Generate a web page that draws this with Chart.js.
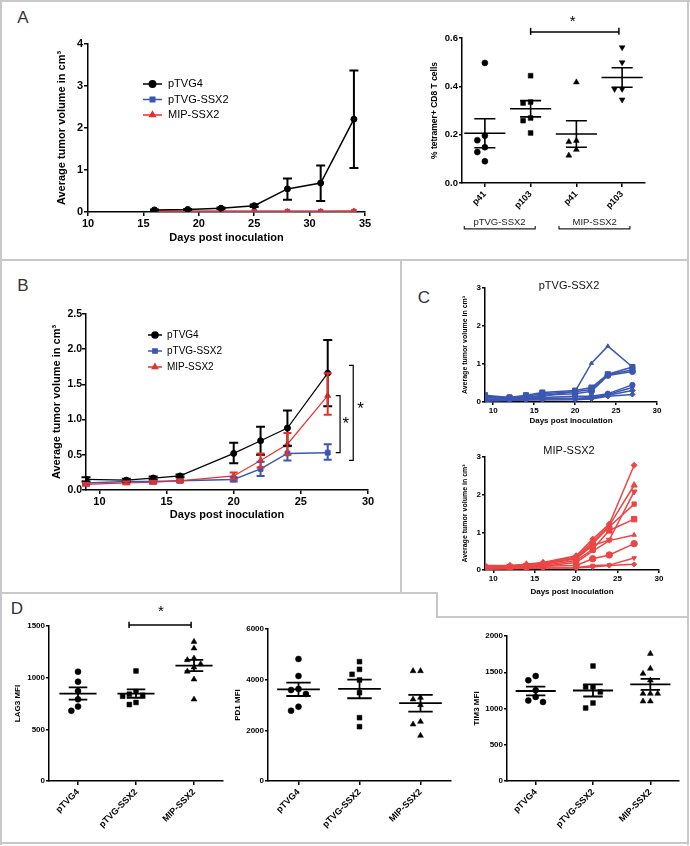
<!DOCTYPE html>
<html><head><meta charset="utf-8">
<script src="https://cdn.jsdelivr.net/npm/chart.js@4.4.1/dist/chart.umd.min.js"></script>
<style>
html,body{margin:0;padding:0;background:#fff;}
body{width:690px;height:846px;position:relative;overflow:hidden;font-family:"Liberation Sans",Arial,sans-serif;}
.f{position:absolute;background:#c8c8c8;}
canvas{position:absolute;}
.pl{position:absolute;font-size:17px;color:#333;line-height:1;transform:translate(-50%,-50%);}
</style></head>
<body>
<div class="f" style="left:0;top:0;width:690px;height:2px"></div>
<div class="f" style="left:0;top:0;width:2px;height:845px"></div>
<div class="f" style="left:687px;top:0;width:2px;height:845px"></div>
<div class="f" style="left:0;top:842px;width:689px;height:2px"></div>
<div class="f" style="left:0;top:259px;width:689px;height:2px"></div>
<div class="f" style="left:400px;top:259px;width:2px;height:335px"></div>
<div class="f" style="left:0;top:592px;width:438px;height:2px"></div>
<div class="f" style="left:436px;top:592px;width:2px;height:26px"></div>
<div class="f" style="left:436px;top:616px;width:253px;height:2px"></div>
<div class="pl" style="left:23px;top:17px">A</div>
<div class="pl" style="left:23px;top:285px">B</div>
<div class="pl" style="left:424px;top:297px">C</div>
<div class="pl" style="left:17px;top:608px">D</div>
<canvas id="cA1"></canvas>
<canvas id="cA2"></canvas>
<canvas id="cB"></canvas>
<canvas id="cC1"></canvas>
<canvas id="cC2"></canvas>
<canvas id="cD1"></canvas>
<canvas id="cD2"></canvas>
<canvas id="cD3"></canvas>
<script>
// ---------------- DATA ----------------
const SERIES = ['pTVG4','pTVG-SSX2','MIP-SSX2'];
// Panel A left
const DAYS_A = [16,19,22,25,28,31,34];
const A_PTVG4 = [0.05,0.06,0.09,0.15,0.55,0.69,2.21];
const A_PTVG4_LO = [0.04,0.05,0.07,0.12,0.29,0.26,1.05];
const A_PTVG4_HI = [0.06,0.07,0.11,0.18,0.80,1.11,3.37];
const A_PTVG_SSX2 = [0.01,0.01,0.01,0.01,0.01,0.01,0.01];
const A_MIP_SSX2 = [0.01,0.01,0.01,0.01,0.01,0.01,0.02];
const A_X_TICKS = [10,15,20,25,30,35];
const A_Y_TICKS = [0,1,2,3,4];
// Panel A right (tetramer)
const TET_LABELS = ['p41','p103','p41','p103'];
const TET_GROUPS = ['pTVG-SSX2','MIP-SSX2'];
const TET_P41_PTVG = [0.497,0.196,0.177,0.148,0.128,0.090];
const TET_P103_PTVG = [0.444,0.335,0.331,0.269,0.258,0.207];
const TET_P41_MIP = [0.417,0.175,0.170,0.138,0.114];
const TET_P103_MIP = [0.561,0.499,0.389,0.389,0.345];
const TET_Y_TICKS = [0,0.2,0.4,0.6];
// Panel B
const DAYS_B = [9,12,14,16,20,22,24,27];
const B_PTVG4 = [0.15,0.14,0.17,0.20,0.52,0.70,0.88,1.66];
const B_PTVG4_LO = [0.12,0.12,0.15,0.18,0.38,0.50,0.63,1.19];
const B_PTVG4_HI = [0.18,0.16,0.19,0.22,0.67,0.90,1.13,2.13];
const B_PTVG_SSX2 = [0.10,0.12,0.12,0.13,0.15,0.30,0.52,0.53];
const B_PTVG_SSX2_LO = [0.08,0.10,0.10,0.11,0.12,0.20,0.42,0.43];
const B_PTVG_SSX2_HI = [0.12,0.14,0.14,0.15,0.18,0.40,0.62,0.65];
const B_MIP_SSX2 = [0.08,0.10,0.11,0.13,0.20,0.42,0.65,1.34];
const B_MIP_SSX2_LO = [0.06,0.08,0.09,0.11,0.15,0.32,0.50,1.07];
const B_MIP_SSX2_HI = [0.10,0.12,0.13,0.15,0.25,0.52,0.81,1.66];
const B_X_TICKS = [10,15,20,25,30];
const B_Y_TICKS = [0,0.5,1.0,1.5,2.0,2.5];
// Panel C (individual mice)
const DAYS_C = [9,12,14,16,20,22,24,27];
const C_PTVG_1 = [0.12,0.10,0.12,0.15,0.28,1.02,1.47,0.92];
const C_PTVG_2 = [0.18,0.12,0.18,0.25,0.30,0.38,0.73,0.92];
const C_PTVG_3 = [0.15,0.12,0.15,0.22,0.27,0.33,0.72,0.85];
const C_PTVG_4 = [0.12,0.10,0.12,0.18,0.22,0.28,0.70,0.80];
const C_PTVG_5 = [0.08,0.08,0.10,0.12,0.15,0.15,0.22,0.45];
const C_PTVG_6 = [0.05,0.08,0.08,0.10,0.10,0.12,0.20,0.38];
const C_PTVG_7 = [0.04,0.06,0.06,0.08,0.08,0.10,0.18,0.30];
const C_PTVG_8 = [0.02,0.04,0.05,0.05,0.06,0.08,0.15,0.20];
const C_MIP_1 = [0.12,0.12,0.15,0.20,0.38,0.82,1.22,2.78];
const C_MIP_2 = [0.10,0.10,0.15,0.18,0.35,0.75,1.18,2.25];
const C_MIP_3 = [0.08,0.10,0.12,0.15,0.30,0.65,0.80,2.08];
const C_MIP_4 = [0.08,0.08,0.12,0.15,0.32,0.70,1.15,1.75];
const C_MIP_5 = [0.06,0.08,0.10,0.12,0.25,0.55,1.05,1.35];
const C_MIP_6 = [0.05,0.06,0.08,0.10,0.20,0.50,0.78,0.93];
const C_MIP_7 = [0.05,0.06,0.08,0.10,0.12,0.30,0.40,0.70];
const C_MIP_8 = [0.03,0.04,0.05,0.05,0.06,0.12,0.13,0.32];
const C_MIP_9 = [0.02,0.03,0.04,0.05,0.05,0.08,0.12,0.15];
const C_PTVG_MICE = [C_PTVG_1,C_PTVG_2,C_PTVG_3,C_PTVG_4,C_PTVG_5,C_PTVG_6,C_PTVG_7,C_PTVG_8];
const C_MIP_MICE = [C_MIP_1,C_MIP_2,C_MIP_3,C_MIP_4,C_MIP_5,C_MIP_6,C_MIP_7,C_MIP_8,C_MIP_9];
const C_X_TICKS = [10,15,20,25,30];
const C_Y_TICKS = [0,1,2,3];
// Panel D
const D_GROUPS = ['pTVG4','pTVG-SSX2','MIP-SSX2'];
const LAG3_PTVG4 = [1058,961,870,790,720,680];
const LAG3_PTVG_SSX2 = [1065,865,840,830,820,760,740];
const LAG3_MIP_SSX2 = [1348,1284,1187,1171,1132,1100,1060,984,790];
const PD1_PTVG4 = [4816,4145,3632,3592,3434,2934,2776];
const PD1_PTVG_SSX2 = [4711,4408,4211,3987,3487,2500,2145];
const PD1_MIP_SSX2 = [4342,4342,3290,3224,3000,2342,2237,1790];
const TIM3_PTVG4 = [1448,1389,1251,1160,1110,1090];
const TIM3_PTVG_SSX2 = [1586,1297,1297,1228,1076,1007];
const TIM3_MIP_SSX2 = [1756,1550,1481,1389,1205,1205,1205,1099,1099];
const LAG3_TICKS = [0,500,1000,1500];
const PD1_TICKS = [0,2000,4000,6000];
const TIM3_TICKS = [0,500,1000,1500,2000];

// ---------------- STYLE / HELPERS ----------------
const FONT = '"Liberation Sans", Arial, sans-serif';
Chart.defaults.font.family = FONT;
Chart.defaults.color = '#000';
const BLACK = '#000000', BLUE = '#3a57b3', RED = '#e5322d', CRED = '#ec4545';
const EXTRAS = {};

function mean(a){return a.reduce((s,v)=>s+v,0)/a.length;}
function sem(a){const m=mean(a);return Math.sqrt(a.reduce((s,v)=>s+(v-m)*(v-m),0)/(a.length-1))/Math.sqrt(a.length);}
function swarm(vals, center, yThr, dx){
  const placed=[];
  return vals.map(v=>{
    for(const k of [0,-1,1,-2,2,-3,3]){
      if(!placed.some(p=>p.k===k && Math.abs(p.v-v)<yThr)){placed.push({k,v});return {x:center+k*dx,y:v};}
    }
    return {x:center,y:v};
  });
}
function toXY(xs, ys){return xs.map((x,i)=>({x, y:ys[i]}));}

function place(id, area, yW, xH, padT, padR){
  const c=document.getElementById(id);
  const left=area.l-yW, top=area.t-padT;
  const w=area.r-area.l+yW+padR, h=area.b-area.t+padT+xH;
  c.style.left=left+'px'; c.style.top=top+'px'; c.style.width=w+'px'; c.style.height=h+'px';
  c.width=w; c.height=h;
  return c;
}
function axis(o){
  return {
    type:'linear', min:o.min, max:o.max,
    ticks:{font:{size:o.fs, weight:'bold'}, color:'#000', padding:o.pad??1, autoSkip:false,
      maxRotation:o.rot||0, minRotation:o.rot||0, callback:o.fmt||(v=>v)},
    afterBuildTicks:(s)=>{s.ticks=o.ticks.map(v=>({value:v}));},
    grid:{display:true, drawOnChartArea:false, drawTicks:true, tickLength:o.tl??4, color:'#000', lineWidth:1.5},
    border:{display:true, color:'#000', width:1.5},
    title:o.title?{display:true, text:o.title, color:'#000', font:{size:o.tfs, weight:'bold'},
      padding:o.isX?{top:0,bottom:o.tpad}:{top:o.tpad,bottom:0}}:{display:false},
    afterFit:(s)=>{ if(o.isX) s.height=o.fit; else s.width=o.fit; }
  };
}
function opts(padT,padR,x,y){
  return {responsive:false, animation:false, events:[], layout:{padding:{top:padT,right:padR,left:0,bottom:0}},
    plugins:{legend:{display:false}, tooltip:{enabled:false}}, scales:{x,y}};
}

const extrasPlugin = {
  id:'extras',
  afterDatasetsDraw(chart){
    const E=EXTRAS[chart.canvas.id]; if(!E) return;
    const ctx=chart.ctx, xs=chart.scales.x, ys=chart.scales.y;
    ctx.save(); ctx.lineCap='butt';
    (E.err||[]).forEach(e=>{
      ctx.strokeStyle=e.color; ctx.lineWidth=e.lw;
      e.x.forEach((xv,i)=>{
        const px=xs.getPixelForValue(xv), pl=ys.getPixelForValue(e.lo[i]), ph=ys.getPixelForValue(e.hi[i]);
        ctx.beginPath(); ctx.moveTo(px,pl); ctx.lineTo(px,ph);
        ctx.moveTo(px-e.cap,pl); ctx.lineTo(px+e.cap,pl);
        ctx.moveTo(px-e.cap,ph); ctx.lineTo(px+e.cap,ph);
        ctx.stroke();
      });
    });
    (E.means||[]).forEach(m=>{
      const px=xs.getPixelForValue(m.x);
      const hw=xs.getPixelForValue(m.x+m.hw)-px, cw=xs.getPixelForValue(m.x+m.cw)-px;
      const pm=ys.getPixelForValue(m.mean), pl=ys.getPixelForValue(m.mean-m.sem), ph=ys.getPixelForValue(m.mean+m.sem);
      ctx.strokeStyle='#000'; ctx.lineWidth=m.lw;
      ctx.beginPath();
      ctx.moveTo(px-hw,pm); ctx.lineTo(px+hw,pm);
      ctx.moveTo(px,pl); ctx.lineTo(px,ph);
      ctx.moveTo(px-cw,pl); ctx.lineTo(px+cw,pl);
      ctx.moveTo(px-cw,ph); ctx.lineTo(px+cw,ph);
      ctx.stroke();
    });
    ctx.restore();
  },
  afterDraw(chart){
    const E=EXTRAS[chart.canvas.id]; if(!E) return;
    const ctx=chart.ctx, xs=chart.scales.x, ys=chart.scales.y, ca=chart.chartArea;
    ctx.save();
    (E.lines||[]).forEach(l=>{
      ctx.strokeStyle=l.color||'#000'; ctx.lineWidth=l.lw||1.5;
      ctx.beginPath();
      l.pts.forEach((p,i)=>{const X=xs.getPixelForValue(p[0]), Y=ys.getPixelForValue(p[1]); if(i) ctx.lineTo(X,Y); else ctx.moveTo(X,Y);});
      ctx.stroke();
    });
    (E.texts||[]).forEach(t=>{
      const X = t.rx!==undefined ? ca.left+t.rx : xs.getPixelForValue(t.x);
      const Y = t.ry!==undefined ? ca.top+t.ry : ys.getPixelForValue(t.y);
      ctx.fillStyle=t.color||'#000'; ctx.font=t.font; ctx.textAlign='center'; ctx.textBaseline='middle';
      ctx.fillText(t.text,X,Y);
    });
    if(E.legend){
      const L=E.legend;
      chart.data.datasets.forEach((ds,i)=>{
        const y=ca.top+L.y+i*L.dy, x0=ca.left+L.x;
        ctx.strokeStyle=ds.borderColor; ctx.fillStyle=ds.borderColor; ctx.lineWidth=1.5;
        ctx.beginPath(); ctx.moveTo(x0,y); ctx.lineTo(x0+L.len,y); ctx.stroke();
        Chart.helpers.drawPoint(ctx,{pointStyle:ds.pointStyle, radius:L.r, rotation:ds.pointRotation||0, borderWidth:1}, x0+L.len/2, y);
        ctx.fillStyle='#000'; ctx.font=L.font; ctx.textAlign='left'; ctx.textBaseline='middle';
        ctx.fillText(ds.label, x0+L.len+L.gap, y);
      });
    }
    ctx.restore();
  }
};
Chart.register(extrasPlugin);

function lineDs(label, xs, ys, color, style, r, order, lw){
  return {label, data:toXY(xs,ys), borderColor:color, backgroundColor:color, pointBackgroundColor:color,
    pointBorderColor:color, pointStyle:style, pointRadius:r, pointBorderWidth:1, borderWidth:lw||1.5,
    pointRotation: 0, showLine:true, tension:0, order};
}

// ---------------- PANEL A left ----------------
{
  const area={l:88,t:44,r:365,b:212}, yW=48, xH=36, padT=12, padR=14;
  const c=place('cA1',area,yW,xH,padT,padR);
  EXTRAS.cA1={
    err:[{x:DAYS_A, lo:A_PTVG4_LO, hi:A_PTVG4_HI, color:BLACK, lw:2, cap:4.5}],
    legend:{x:55, y:40, dy:15.5, len:19, gap:6, r:3.2, font:'11px '+FONT}
  };
  new Chart(c,{type:'line', data:{datasets:[
      lineDs(SERIES[0],DAYS_A,A_PTVG4,BLACK,'circle',3,0,1.5),
      lineDs(SERIES[1],DAYS_A,A_PTVG_SSX2,BLUE,'rect',3.2,2,2),
      lineDs(SERIES[2],DAYS_A,A_MIP_SSX2,RED,'triangle',3.2,1,1.5)]},
    options:opts(padT,padR,
      axis({isX:true,min:10,max:35,ticks:A_X_TICKS,fs:11,fit:xH,title:'Days post inoculation',tfs:11,tpad:3.4}),
      axis({min:0,max:4,ticks:A_Y_TICKS,fs:11,fit:yW,title:'Average tumor volume in cm³',tfs:11,tpad:15.4}))});
}

// ---------------- PANEL A right ----------------
{
  const area={l:462,t:38,r:645,b:183}, yW=40, xH=55, padT=26, padR=12;
  const c=place('cA2',area,yW,xH,padT,padR);
  const groups=[TET_P41_PTVG,TET_P103_PTVG,TET_P41_MIP,TET_P103_MIP];
  const shapes=[['circle',0,3],['rect',0,3.4],['triangle',0,3.4],['triangle',180,3.4]];
  const ds=groups.map((g,i)=>({label:TET_LABELS[i], data:swarm(g,i+1,0.03,0.165), showLine:false,
    pointStyle:shapes[i][0], pointRotation:shapes[i][1], pointRadius:shapes[i][2],
    pointBackgroundColor:'#000', pointBorderColor:'#000', pointBorderWidth:0.5, borderColor:'#000'}));
  EXTRAS.cA2={
    means:groups.map((g,i)=>({x:i+1, mean:mean(g), sem:sem(g), hw:0.45, cw:0.23, lw:1.6})),
    lines:[
      {pts:[[2,0.613],[2,0.642]]},{pts:[[2,0.625],[3.93,0.625]]},{pts:[[3.93,0.613],[3.93,0.642]]},
      {pts:[[0.55,-0.178],[0.55,-0.190],[2.1,-0.190],[2.1,-0.178]], lw:1.2, color:'#222'},
      {pts:[[2.62,-0.178],[2.62,-0.190],[4.17,-0.190],[4.17,-0.178]], lw:1.2, color:'#222'}],
    texts:[
      {x:2.92, y:0.668, text:'*', font:'15px '+FONT},
      {x:1.32, y:-0.163, text:TET_GROUPS[0], font:'9.5px '+FONT, color:'#222'},
      {x:3.40, y:-0.163, text:TET_GROUPS[1], font:'9.5px '+FONT, color:'#222'}]
  };
  new Chart(c,{type:'scatter', data:{datasets:ds},
    options:opts(padT,padR,
      axis({isX:true,min:0.5,max:4.5,ticks:[1,2,3,4],fs:9,fit:xH,rot:45,tl:4,pad:2,fmt:v=>TET_LABELS[v-1]}),
      axis({min:0,max:0.6,ticks:TET_Y_TICKS,fs:9.5,fit:yW,tl:3,pad:1,fmt:v=>v.toFixed(1),
        title:'% tetramer+ CD8 T cells',tfs:8.5,tpad:8}))});
}

// ---------------- PANEL B ----------------
{
  const area={l:86,t:314,r:368,b:490}, yW=45, xH=36, padT=14, padR=22;
  const c=place('cB',area,yW,xH,padT,padR);
  EXTRAS.cB={
    err:[
      {x:DAYS_B, lo:B_PTVG_SSX2_LO, hi:B_PTVG_SSX2_HI, color:BLUE, lw:2, cap:4},
      {x:DAYS_B, lo:B_PTVG4_LO, hi:B_PTVG4_HI, color:BLACK, lw:2, cap:4.5},
      {x:DAYS_B, lo:B_MIP_SSX2_LO, hi:B_MIP_SSX2_HI, color:RED, lw:2, cap:4}],
    lines:[
      {pts:[[27.6,1.34],[27.92,1.34],[27.92,0.53],[27.6,0.53]], lw:1.2},
      {pts:[[28.58,1.77],[28.9,1.77],[28.9,0.42],[28.58,0.42]], lw:1.2}],
    texts:[{x:28.35,y:0.93,text:'*',font:'17px '+FONT},{x:29.45,y:1.15,text:'*',font:'17px '+FONT}],
    legend:{x:62, y:21, dy:16, len:14, gap:5, r:3, font:'10px '+FONT}
  };
  new Chart(c,{type:'line', data:{datasets:[
      lineDs(SERIES[0],DAYS_B,B_PTVG4,BLACK,'circle',3,1,1.2),
      lineDs(SERIES[1],DAYS_B,B_PTVG_SSX2,BLUE,'rect',3.4,2,1.5),
      lineDs(SERIES[2],DAYS_B,B_MIP_SSX2,RED,'triangle',3.4,0,1.2)]},
    options:opts(padT,padR,
      axis({isX:true,min:9,max:30,ticks:B_X_TICKS,fs:11,fit:xH,title:'Days post inoculation',tfs:11,tpad:4.4}),
      axis({min:0,max:2.5,ticks:B_Y_TICKS,fs:10.5,fit:yW,pad:0,fmt:v=>v.toFixed(1),title:'Average tumor volume in cm³',tfs:11,tpad:9.5}))});
}

// ---------------- PANEL C ----------------
const C_STY_PTVG=[['triangle',0,2.3],['rect',0,3.6],['rect',0,3.4],['circle',0,3],['circle',0,2.6],['triangle',180,2.6],['rectRot',0,2.8],['rectRot',0,2.6]];
const C_STY_MIP=[['rectRot',0,3],['triangle',0,3.6],['triangle',180,3.4],['rect',0,3],['rect',0,3.8],['triangle',0,2.6],['circle',0,3.2],['triangle',180,2.6],['rectRot',0,2.6]];
function cChart(id, area, mice, sty, color, title, ry){
  const yW=30, xH=area.xH, padT=14, padR=15;
  const c=place(id,area,yW,xH,padT,padR);
  EXTRAS[id]={texts:[{rx:84, ry, text:title, font:'11px '+FONT, color:'#111'}]};
  new Chart(c,{type:'line', data:{datasets:mice.map((m,i)=>{
      const d=lineDs('m'+(i+1),DAYS_C,m,color,sty[i][0],sty[i][2],i,1.5); d.pointRotation=sty[i][1]; return d;})},
    options:opts(padT,padR,
      axis({isX:true,min:9,max:30,ticks:C_X_TICKS,fs:8,fit:xH,tl:3,pad:1,title:'Days post inoculation',tfs:8,tpad:area.tp}),
      axis({min:0,max:3,ticks:C_Y_TICKS,fs:8,fit:yW,tl:3,pad:1,title:'Average tumor volume in cm³',tfs:7,tpad:5.8}))});
}
cChart('cC1',{l:485,t:288,r:657,b:402,xH:25,tp:1.2},C_PTVG_MICE,C_STY_PTVG,BLUE,'pTVG-SSX2',-2);
cChart('cC2',{l:485,t:457,r:659,b:570,xH:28,tp:1.2},C_MIP_MICE,C_STY_MIP,CRED,'MIP-SSX2',-6);

// ---------------- PANEL D ----------------
function dChart(id, area, groups, ticks, title, yThr, dx, hw, cw, padT, padR, extra){
  const yW=40, xH=55;
  const c=place(id,area,yW,xH,padT,padR);
  const shapes=[['circle',0,3],['rect',0,3.4],['triangle',0,3.4]];
  const ds=groups.map((g,i)=>({label:D_GROUPS[i], data:swarm(g,i+1,yThr,dx), showLine:false,
    pointStyle:shapes[i][0], pointRotation:shapes[i][1], pointRadius:shapes[i][2],
    pointBackgroundColor:'#000', pointBorderColor:'#000', pointBorderWidth:0.5, borderColor:'#000'}));
  EXTRAS[id]=Object.assign({means:groups.map((g,i)=>({x:i+1, mean:mean(g), sem:sem(g), hw, cw, lw:1.8}))}, extra||{});
  new Chart(c,{type:'scatter', data:{datasets:ds},
    options:opts(padT,padR,
      axis({isX:true,min:0.5,max:3.5,ticks:[1,2,3],fs:9,fit:xH,rot:45,tl:4,pad:2,fmt:v=>D_GROUPS[v-1]}),
      axis({min:0,max:ticks[ticks.length-1],ticks,fs:8,fit:yW,tl:3,pad:1,title,tfs:8,tpad:title==='LAG3 MFI'?4.2:5.2}))});
}
dChart('cD1',{l:49,t:626,r:223,b:781},[LAG3_PTVG4,LAG3_PTVG_SSX2,LAG3_MIP_SSX2],LAG3_TICKS,'LAG3 MFI',63,0.115,0.32,0.16,25,12,
  {lines:[{pts:[[1.88,1481],[1.88,1540]]},{pts:[[1.88,1510],[2.95,1510]]},{pts:[[2.95,1481],[2.95,1540]]}],
   texts:[{x:2.43,y:1640,text:'*',font:'15px '+FONT}]});
dChart('cD2',{l:268,t:629,r:451,b:781},[PD1_PTVG4,PD1_PTVG_SSX2,PD1_MIP_SSX2],PD1_TICKS,'PD1 MFI',257,0.122,0.35,0.2,15,10);
dChart('cD3',{l:507,t:636,r:679,b:781},[TIM3_PTVG4,TIM3_PTVG_SSX2,TIM3_MIP_SSX2],TIM3_TICKS,'TIM3 MFI',90,0.128,0.35,0.17,15,8);
</script>
</body></html>
